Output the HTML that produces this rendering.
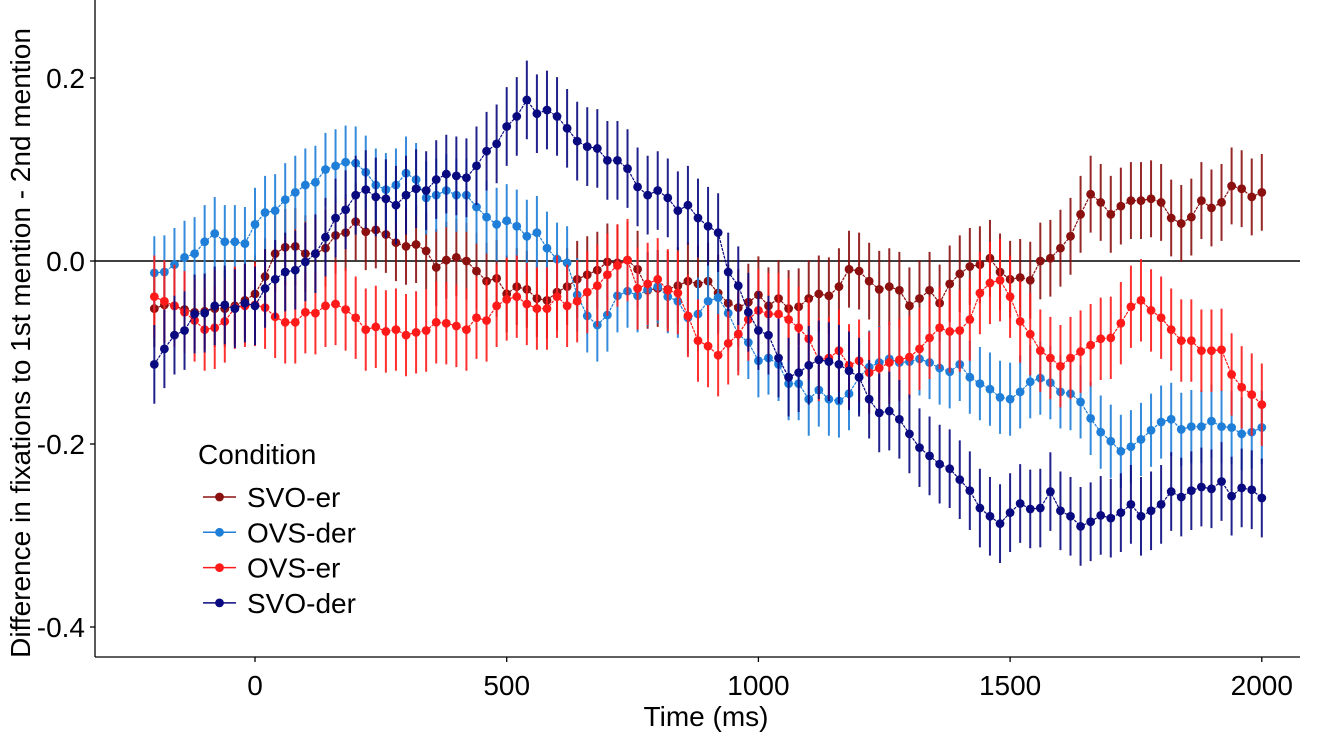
<!DOCTYPE html>
<html><head><meta charset="utf-8"><style>
html,body{margin:0;padding:0;background:#fff;}
svg{display:block;font-family:"Liberation Sans",sans-serif;}
</style></head><body>
<svg id="chart" width="1320" height="733" viewBox="0 0 1320 733">
<g id="axes"></g>
<g id="series"></g>
<g id="legend"></g>
</svg>
<script>
const times = [];
for (let t = -200; t <= 2000; t += 20) times.push(t);
const xTicks = [0, 500, 1000, 1500, 2000];
const yTicks = [0.2, 0.0, -0.2, -0.4];
const yTickLabels = ["0.2", "0.0", "-0.2", "-0.4"];
const seriesNames = ["SVO-er", "OVS-der", "OVS-er", "SVO-der"];
const svoEr = [-0.052,-0.048,-0.049,-0.053,-0.056,-0.055,-0.052,-0.052,-0.049,-0.043,-0.036,-0.017,0.008,0.015,0.016,0.008,0.008,0.014,0.028,0.031,0.043,0.032,0.034,0.029,0.020,0.016,0.018,0.011,-0.007,0.001,
0.004,0.000,-0.011,-0.022,-0.019,-0.036,-0.028,-0.031,-0.041,-0.043,-0.034,-0.028,-0.020,-0.015,-0.010,-0.001,-0.002,0.001,-0.009,-0.032,-0.030,-0.031,-0.027,-0.022,-0.025,-0.022,-0.035,-0.046,-0.051,-0.045,-0.037,
-0.049,-0.041,-0.052,-0.050,-0.041,-0.036,-0.038,-0.028,-0.009,-0.011,-0.022,-0.031,-0.028,-0.032,-0.049,-0.041,-0.032,-0.046,-0.025,-0.014,-0.006,-0.004,0.003,-0.012,-0.020,-0.018,-0.021,
0.000,0.003,0.014,0.027,0.051,0.073,0.064,0.051,0.060,0.066,0.066,0.068,0.064,0.047,0.041,0.048,0.066,0.058,0.064,0.082,0.079,0.070,0.075];
const ovsDer = [-0.013,-0.012,-0.004,0.004,0.008,0.021,0.030,0.021,0.021,0.019,0.040,0.053,0.055,0.067,0.075,0.083,0.086,0.100,0.104,0.108,0.107,0.097,0.083,0.078,0.083,0.096,0.089,0.069,0.072,0.077,
0.072,0.072,0.059,0.048,0.040,0.044,0.038,0.027,0.031,0.014,0.002,-0.002,-0.037,-0.060,-0.070,-0.059,-0.038,-0.033,-0.038,-0.031,-0.028,-0.039,-0.044,-0.062,-0.058,-0.044,-0.040,-0.057,-0.080,-0.089,-0.109,
-0.106,-0.113,-0.134,-0.134,-0.151,-0.141,-0.151,-0.153,-0.145,-0.127,-0.116,-0.111,-0.107,-0.111,-0.110,-0.107,-0.111,-0.117,-0.121,-0.113,-0.127,-0.134,-0.140,-0.149,-0.151,-0.143,-0.132,
-0.128,-0.133,-0.143,-0.145,-0.154,-0.172,-0.187,-0.197,-0.208,-0.203,-0.195,-0.185,-0.176,-0.173,-0.184,-0.181,-0.181,-0.175,-0.181,-0.182,-0.189,-0.187,-0.182];
const ovsEr = [-0.039,-0.044,-0.049,-0.056,-0.065,-0.075,-0.073,-0.066,-0.051,-0.049,-0.048,-0.051,-0.061,-0.067,-0.067,-0.056,-0.057,-0.049,-0.047,-0.053,-0.062,-0.075,-0.072,-0.077,-0.075,-0.081,-0.078,-0.076,-0.067,-0.068,
-0.071,-0.075,-0.062,-0.065,-0.049,-0.042,-0.039,-0.047,-0.052,-0.052,-0.039,-0.049,-0.044,-0.034,-0.027,-0.015,-0.005,0.001,-0.030,-0.025,-0.020,-0.032,-0.035,-0.060,-0.087,-0.093,-0.103,-0.090,-0.080,-0.064,-0.054,
-0.058,-0.058,-0.064,-0.073,-0.085,-0.108,-0.106,-0.098,-0.114,-0.109,-0.122,-0.117,-0.111,-0.108,-0.105,-0.096,-0.084,-0.073,-0.077,-0.076,-0.064,-0.035,-0.024,-0.021,-0.039,-0.066,-0.080,
-0.098,-0.106,-0.115,-0.106,-0.099,-0.092,-0.085,-0.084,-0.068,-0.050,-0.043,-0.054,-0.062,-0.075,-0.087,-0.087,-0.098,-0.098,-0.097,-0.124,-0.138,-0.146,-0.157];
const svoDer = [-0.113,-0.096,-0.081,-0.076,-0.058,-0.057,-0.049,-0.048,-0.052,-0.046,-0.049,-0.030,-0.020,-0.012,-0.010,-0.001,0.008,0.026,0.047,0.056,0.072,0.078,0.070,0.068,0.061,0.072,0.079,0.077,0.089,0.095,
0.093,0.091,0.104,0.120,0.128,0.147,0.158,0.176,0.161,0.165,0.158,0.145,0.131,0.125,0.123,0.110,0.110,0.101,0.081,0.072,0.077,0.069,0.055,0.061,0.047,0.038,0.031,-0.012,-0.027,-0.056,-0.076,
-0.081,-0.106,-0.127,-0.122,-0.114,-0.108,-0.110,-0.113,-0.120,-0.127,-0.151,-0.166,-0.164,-0.173,-0.189,-0.204,-0.213,-0.222,-0.227,-0.239,-0.251,-0.270,-0.279,-0.287,-0.275,-0.265,-0.271,
-0.270,-0.252,-0.273,-0.279,-0.290,-0.285,-0.278,-0.281,-0.275,-0.266,-0.279,-0.273,-0.266,-0.252,-0.258,-0.251,-0.247,-0.249,-0.241,-0.257,-0.248,-0.250,-0.259];
const seriesErr = [0.042, 0.040, 0.045, 0.043];

const NS = "http://www.w3.org/2000/svg";
const X = t => 255 + t * 0.5034;
const Y = v => 261 - v * 915;
function mk(tag, attrs, parent, text) {
  const e = document.createElementNS(NS, tag);
  for (const k in attrs) e.setAttribute(k, attrs[k]);
  if (text !== undefined) e.textContent = text;
  parent.appendChild(e);
  return e;
}
const axes = document.getElementById('axes');
let e;
e = mk('line', {x1:95,y1:0,x2:95,y2:657,stroke:'#000','stroke-width':1.3}, axes);


e = mk('line', {x1:95,y1:657,x2:1300,y2:657,stroke:'#000','stroke-width':1.3}, axes);


e = mk('line', {x1:95,y1:Y(0),x2:1300,y2:Y(0),stroke:'#000','stroke-width':1.5}, axes);


yTicks.forEach((v, i) => {
  e = mk('line', {x1:90,y1:Y(v),x2:95,y2:Y(v),stroke:'#000','stroke-width':1.3}, axes);
  
  
  e = mk('text', {x:85,y:Y(v)+10,'text-anchor':'end','font-size':28,fill:'#000'}, axes, yTickLabels[i]);
  
  
});
xTicks.forEach(t => {
  e = mk('line', {x1:X(t),y1:657,x2:X(t),y2:662,stroke:'#000','stroke-width':1.3}, axes);
  
  
  e = mk('text', {x:X(t),y:695,'text-anchor':'middle','font-size':28,fill:'#000'}, axes, String(t));
  
  
});
e = mk('text', {x:706,y:726,'text-anchor':'middle','font-size':28,fill:'#000'}, axes, 'Time (ms)');


e = mk('text', {x:0,y:0,'text-anchor':'middle','font-size':28,fill:'#000',transform:'translate(30,343) rotate(-90)'}, axes, 'Difference in fixations to 1st mention - 2nd mention');



const allSeries = [svoEr, ovsDer, ovsEr, svoDer];
const colors = ['#8b1010', '#1f7fd8', '#ff1a1a', '#0a0a80'];
const keys = ['svo-er', 'ovs-der', 'ovs-er', 'svo-der'];
const sg = document.getElementById('series');
allSeries.forEach((vals, si) => {
  const g = mk('g', {}, sg);
  
  
  const c = colors[si], se = seriesErr[si];
  vals.forEach((v, i) => {
    const eb = mk('line', {x1:X(times[i]),x2:X(times[i]),y1:Y(v+se),y2:Y(v-se),stroke:c,'stroke-width':2,opacity:0.9}, g);
    
    
  });
  const pts = vals.map((v, i) => X(times[i]).toFixed(1) + ',' + Y(v).toFixed(1)).join(' ');
  const pl = mk('polyline', {points:pts,fill:'none',stroke:c,'stroke-width':1.2,'stroke-dasharray':'3,1'}, g);
  
  
  vals.forEach((v, i) => {
    const d = mk('circle', {cx:X(times[i]),cy:Y(v),r:4.4,fill:c}, g);
    
    
  });
});

const lg = document.getElementById('legend');
e = mk('text', {x:198,y:464,'font-size':28,fill:'#000'}, lg, 'Condition');


seriesNames.forEach((n, i) => {
  const y = 497 + i * 35.3;
  const g = mk('g', {}, lg);
  
  
  mk('line', {x1:203,x2:236,y1:y,y2:y,stroke:colors[i],'stroke-width':1.5}, g);
  mk('circle', {cx:219.5,cy:y,r:4.4,fill:colors[i]}, g);
  mk('text', {x:247,y:y+10,'font-size':28,fill:'#000'}, g, n);
});
</script>
</body></html>
